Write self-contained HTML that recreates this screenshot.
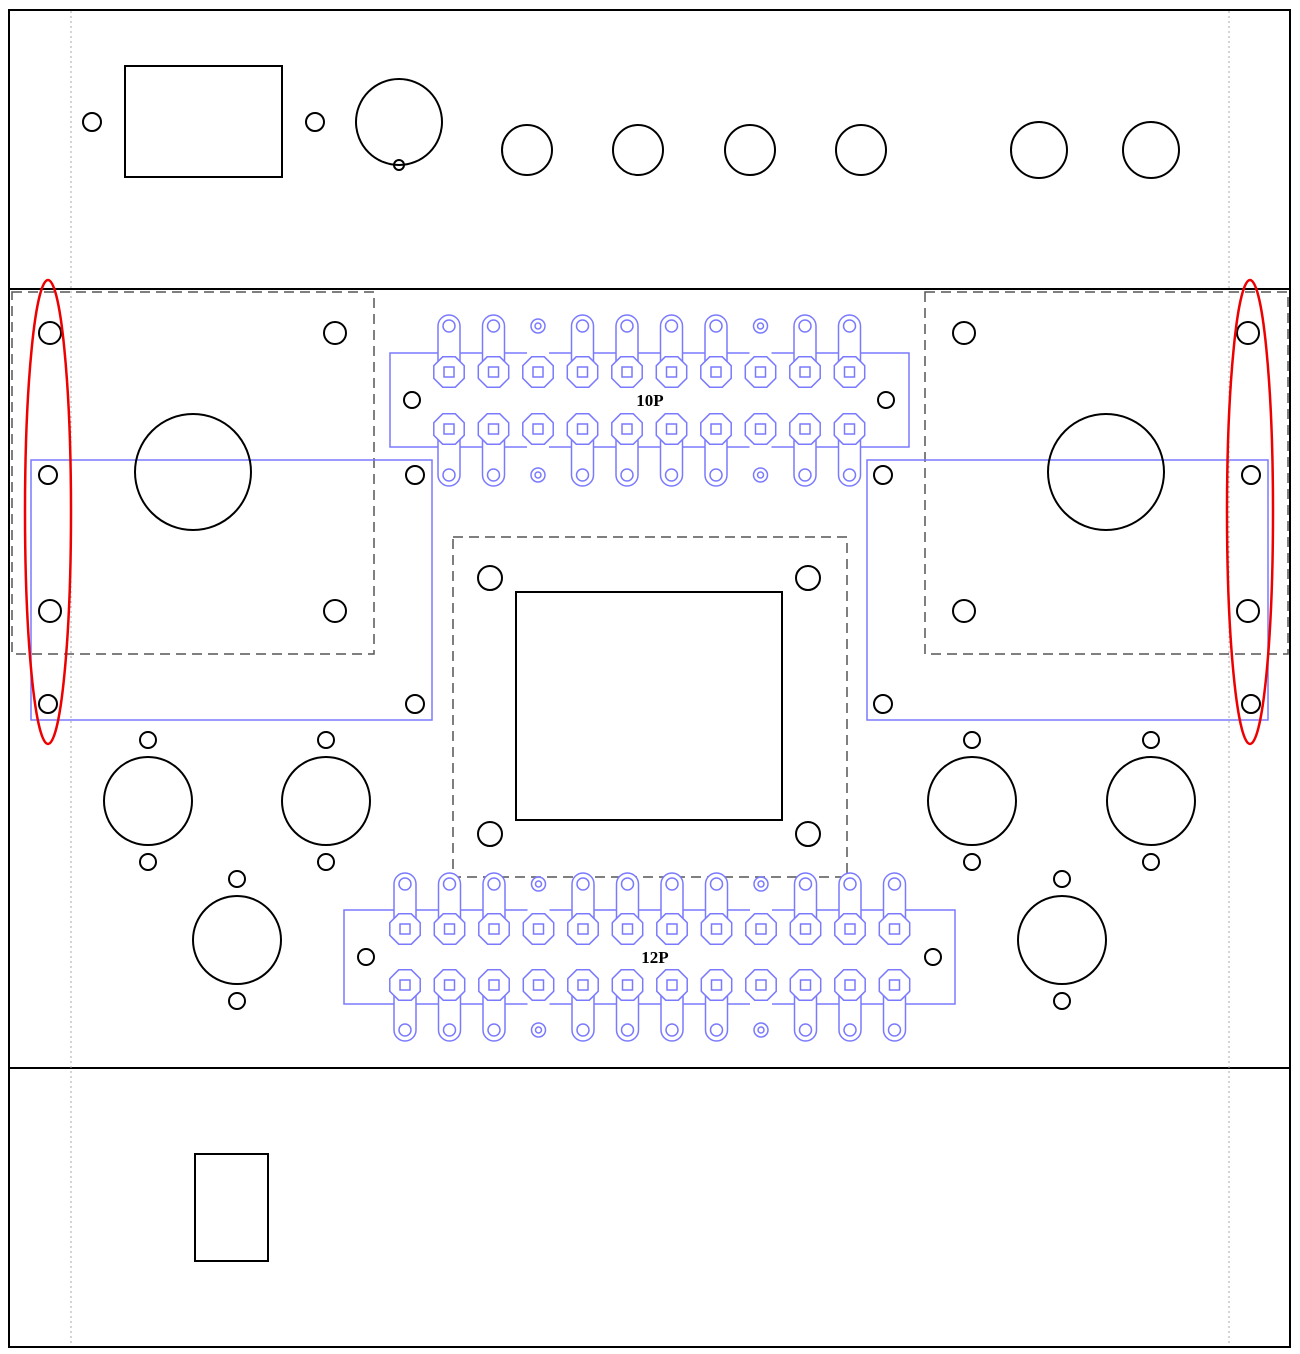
<!DOCTYPE html>
<html><head><meta charset="utf-8"><style>
html,body{margin:0;padding:0;background:#fff;width:1300px;height:1354px;overflow:hidden}
</style></head><body>
<svg id="s" width="1300" height="1354" viewBox="0 0 1300 1354" xmlns="http://www.w3.org/2000/svg" font-family="Liberation Serif, serif">
<g fill="none" stroke="#000" stroke-width="2">
<rect x="9" y="10" width="1281" height="1337"/>
<line x1="9" y1="289" x2="1290" y2="289"/>
<line x1="9" y1="1068" x2="1290" y2="1068"/>
<rect x="195" y="1154" width="73" height="107"/>
</g>
<g stroke="#aaa" stroke-width="1" stroke-dasharray="2,3">
<line x1="71" y1="11" x2="71" y2="1346"/>
<line x1="1229" y1="11" x2="1229" y2="1346"/>
</g>
<g fill="none" stroke="#000" stroke-width="2">
<circle cx="92" cy="122" r="9"/><circle cx="315" cy="122" r="9"/>
<rect x="125" y="66" width="157" height="111"/>
<circle cx="399" cy="122" r="43"/><circle cx="399" cy="165" r="5"/>
<circle cx="527" cy="150" r="25"/><circle cx="638" cy="150" r="25"/>
<circle cx="750" cy="150" r="25"/><circle cx="861" cy="150" r="25"/>
<circle cx="1039" cy="150" r="28"/><circle cx="1151" cy="150" r="28"/>
</g>
<g fill="none" stroke="#555" stroke-width="1.5" stroke-dasharray="10,6">
<rect x="12" y="292" width="362" height="362"/>
<rect x="925" y="292" width="363" height="362"/>
<rect x="453" y="537" width="394" height="340"/>
</g>
<g fill="none" stroke="#7a7aff" stroke-width="1.5">
<rect x="31" y="460" width="401" height="260"/>
<rect x="867" y="460" width="401" height="260"/>
</g>
<g fill="none" stroke="#000" stroke-width="2">
<circle cx="50" cy="333" r="11"/><circle cx="335" cy="333" r="11"/><circle cx="50" cy="611" r="11"/><circle cx="335" cy="611" r="11"/>
<circle cx="48" cy="475" r="9"/><circle cx="415" cy="475" r="9"/><circle cx="48" cy="704" r="9"/><circle cx="415" cy="704" r="9"/>
<circle cx="964" cy="333" r="11"/><circle cx="1248" cy="333" r="11"/><circle cx="964" cy="611" r="11"/><circle cx="1248" cy="611" r="11"/>
<circle cx="883" cy="475" r="9"/><circle cx="1251" cy="475" r="9"/><circle cx="883" cy="704" r="9"/><circle cx="1251" cy="704" r="9"/>
<circle cx="193" cy="472" r="58"/><circle cx="1106" cy="472" r="58"/>
<rect x="516" y="592" width="266" height="228"/>
<circle cx="490" cy="578" r="12"/><circle cx="808" cy="578" r="12"/><circle cx="490" cy="834" r="12"/><circle cx="808" cy="834" r="12"/>
<circle cx="148" cy="801" r="44"/><circle cx="148" cy="740" r="8"/><circle cx="148" cy="862" r="8"/>
<circle cx="326" cy="801" r="44"/><circle cx="326" cy="740" r="8"/><circle cx="326" cy="862" r="8"/>
<circle cx="972" cy="801" r="44"/><circle cx="972" cy="740" r="8"/><circle cx="972" cy="862" r="8"/>
<circle cx="1151" cy="801" r="44"/><circle cx="1151" cy="740" r="8"/><circle cx="1151" cy="862" r="8"/>
<circle cx="237" cy="940" r="44"/><circle cx="237" cy="879" r="8"/><circle cx="237" cy="1001" r="8"/>
<circle cx="1062" cy="940" r="44"/><circle cx="1062" cy="879" r="8"/><circle cx="1062" cy="1001" r="8"/>
<circle cx="412" cy="400" r="8"/><circle cx="886" cy="400" r="8"/>
<circle cx="366" cy="957" r="8"/><circle cx="933" cy="957" r="8"/>
</g>
<g id="blue" fill="none" stroke="#7a7aff" stroke-width="1.5">
<rect x="390" y="353" width="519" height="94"/>
<rect x="344" y="910" width="611" height="94"/>
</g>
<text x="650" y="406" font-size="17" font-weight="bold" text-anchor="middle">10P</text>
<text x="655" y="963" font-size="17" font-weight="bold" text-anchor="middle">12P</text>
<g fill="none" stroke="#e00" stroke-width="2.5">
<ellipse cx="48" cy="512" rx="23" ry="232"/>
<ellipse cx="1250" cy="512" rx="23" ry="232"/>
</g>
</svg>
<script>
var g=document.getElementById('blue'),ns="http://www.w3.org/2000/svg";
function el(t,a){var e=document.createElementNS(ns,t);for(var k in a)e.setAttribute(k,a[k]);g.appendChild(e);}
function oct(x,y){var p=[];for(var i=0;i<8;i++){var a=Math.PI/8+i*Math.PI/4;p.push((x+16.5*Math.cos(a)).toFixed(1)+","+(y+16.5*Math.sin(a)).toFixed(1));}el('polygon',{points:p.join(' '),fill:'#fff'});el('rect',{x:x-5,y:y-5,width:10,height:10});}
function lug(x,ys,yt,type){var d=yt<ys?-1:1;
 if(type!='S'){var top=Math.min(ys,yt)-11,h=Math.abs(ys-yt)+22;el('rect',{x:x-11,y:top,width:22,height:h,rx:11,fill:'#fff'});el('circle',{cx:x,cy:yt,r:6});}
 else{el('rect',{x:x-11,y:(d<0?ys-24:ys+8),width:22,height:16,fill:'#fff',stroke:'none'});el('circle',{cx:x,cy:yt,r:7});el('circle',{cx:x,cy:yt,r:3});}
 oct(x,ys);}
var t10="LMSLLLMSML",b10="LLSLLLMSML",t12="LLMSMLLMSMLL",b12="LLMSLLLLSMLL";
for(var i=0;i<10;i++){var x=449+i*44.5;lug(x,372,326,t10[i]);lug(x,429,475,b10[i]);}
for(var i=0;i<12;i++){var x=405+i*44.5;lug(x,929,884,t12[i]);lug(x,985,1030,b12[i]);}
</script>
</body></html>
